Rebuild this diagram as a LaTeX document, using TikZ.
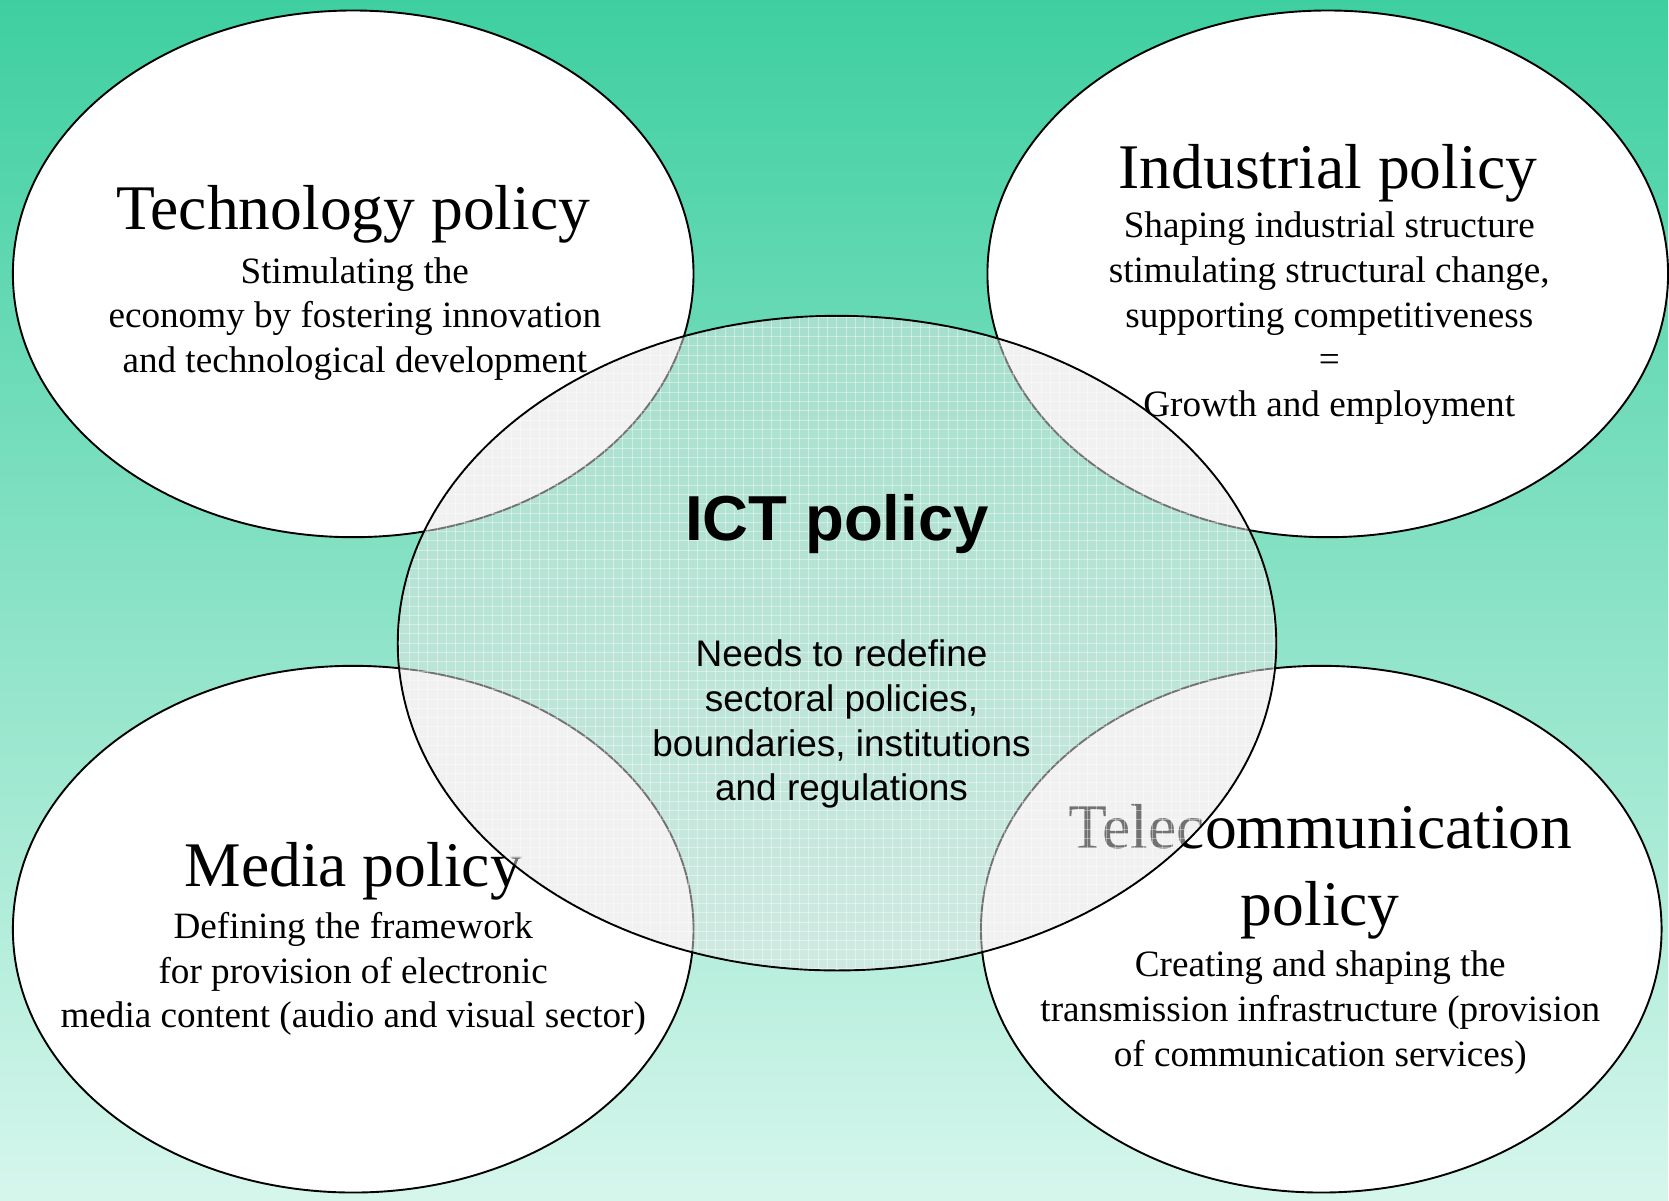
\documentclass[tikz,border=0pt]{standalone}
\usepackage{fontspec}
\setmainfont{Liberation Serif}
\newfontfamily\arialfont{Liberation Sans}
\usetikzlibrary{shapes.geometric}
\definecolor{BgTop}{RGB}{62,207,160}
\definecolor{BgBottom}{RGB}{214,246,236}
\definecolor{IctFill}{RGB}{229,229,229}

\begin{document}
\begin{tikzpicture}[x=1pt, y=-1pt,
	pol/.style={ellipse,draw=black,line width=1.9pt,fill=white,inner sep=0pt,
		minimum width=681pt,minimum height=527pt},
	ictpol/.style={ellipse,draw=black,line width=1.9pt,fill=IctFill,fill opacity=0.5,
		inner sep=0pt,minimum width=879pt,minimum height=655pt},
	ttl/.style={anchor=base,inner sep=0pt,font=\fontsize{63.6}{78.8}\selectfont},
	sub/.style={align=center,inner sep=0pt,font=\fontsize{37.2}{44.7}\selectfont},
	gridline/.style={white,line width=0.8pt,opacity=0.4}]
% background
\shade[top color=BgTop,bottom color=BgBottom] (0,0) rectangle (1669,1201);
% four policy fields
\node[pol] (tech) at (353.4,274) {};
\node[pol] (ind) at (1328.5,274) {};
\node[pol] (media) at (353.4,929.7) {};
\node[pol] (tele) at (1322,929.7) {};
% lower texts lie under the ICT field
\node[ttl] (mediaT) at (353.4,886.6) {Media policy};
\node[sub] (mediaS) at (353.4,974.7) {Defining the framework\\for provision of electronic\\media content (audio and visual sector)};
\node[ttl] (teleT) at (1321,849.4) {Telecommunication};
\node[ttl] (teleP) at (1321,926) {policy};
\node[sub] (teleS) at (1321,1013) {Creating and shaping the\\transmission infrastructure (provision\\of communication services)};
% ICT field
\node[ictpol] (ict) at (837.5,643.5) {};
\begin{scope}
	\clip (ict.center) ellipse [x radius=438.5pt,y radius=326.5pt];
	\foreach \gx in {400,409.3,...,1277}
		\draw[gridline] (\gx,316) -- (\gx,971);
	\foreach \gy in {318,327.3,...,971}
		\draw[gridline] (398,\gy) -- (1277,\gy);
\end{scope}
% upper texts
\node[ttl] (techT) at (353.4,230) {Technology policy};
\node[sub] (techS) at (355,319) {Stimulating the\\economy by fostering innovation\\and technological development};
\node[ttl] (indT) at (1328.5,188.4) {Industrial policy};
\node[sub] (indS) at (1330,318.5) {Shaping industrial structure\\stimulating structural change,\\supporting competitiveness\\=\\Growth and employment};
\node[ttl,font=\arialfont\bfseries\fontsize{63.6}{78.8}\selectfont] (ictT) at (837.5,540.7) {ICT policy};
\node[sub,font=\arialfont\fontsize{37}{44.7}\selectfont] (ictS) at (842,724.6) {Needs to redefine\\sectoral policies,\\boundaries, institutions\\and regulations};
\end{tikzpicture}
\end{document}
